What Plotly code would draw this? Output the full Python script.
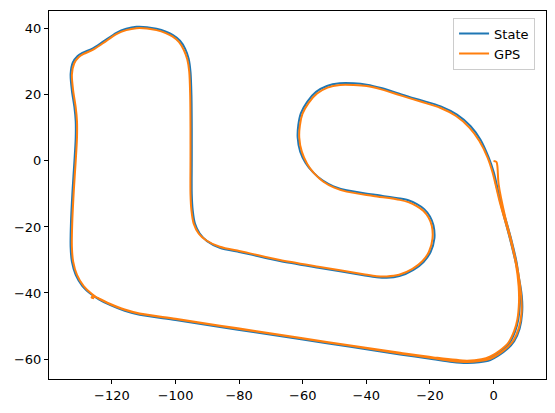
import plotly.graph_objects as go

# trayectoria del estado (x, y)
state_xy = [
    (0.5, -6), (2.8, -15), (5.4, -24.5), (7.6, -33.5), (8.9, -41), (9.0, -46), (8.2, -50.8),
    (6.5, -54.6), (4.3, -57), (1.5, -59), (-1.0, -60.3), (-4.5, -61), (-8.4, -61.2), (-13, -60.9),
    (-18.9, -60.1), (-29.4, -58.6), (-45, -56.3), (-60, -54.1), (-75, -51.9), (-86, -50.3),
    (-100, -48.2), (-111.3, -46.6), (-116, -45.4), (-120.5, -43.7), (-124, -42), (-126.5, -40.4),
    (-129.3, -37.9), (-131.4, -34.5), (-132.6, -30.5), (-133.0, -26), (-132.9, -19), (-132.4, -9),
    (-131.8, 0), (-131.4, 7), (-131.4, 12), (-131.8, 16.2), (-132.6, 21.3), (-133.0, 26.3),
    (-132.3, 29.8), (-130.8, 31.8), (-129.1, 32.8), (-126, 34.1), (-122.8, 36.1), (-118.6, 38.8),
    (-115.5, 40.0), (-112.3, 40.6), (-109, 40.5), (-106, 40.0), (-103, 39.1), (-100.8, 38.1),
    (-98.6, 36.4), (-97.0, 34), (-95.9, 31), (-95.3, 27), (-95.0, 20), (-94.9, 10), (-94.9, 0),
    (-94.9, -10), (-94.6, -15), (-93.9, -19), (-92.4, -22), (-90.1, -24.3), (-86.1, -26.3),
    (-80, -27.6), (-76.6, -28.3), (-67.2, -30.3), (-54.6, -32.4), (-40.9, -34.6), (-36.8, -35.2),
    (-33.6, -35.4), (-29.6, -34.9), (-25.2, -33.0), (-22.0, -30.6), (-19.8, -27.6), (-18.6, -23.5),
    (-18.9, -19.5), (-20.0, -16.8), (-21.8, -14.6), (-24.1, -13.1), (-26.6, -12.0), (-29.4, -11.4),
    (-37.8, -10.2), (-46.2, -8.9), (-50.3, -7.7), (-53.8, -5.9), (-56.8, -3.4), (-59.1, -0.6),
    (-60.8, 2.8), (-61.6, 7.1), (-61.4, 10.8), (-60.6, 14.4), (-58.6, 17.9), (-55.8, 20.9),
    (-52.4, 22.7), (-48.4, 23.5), (-44.0, 23.5), (-39.9, 23.1), (-35.0, 22.0), (-30.4, 20.6),
    (-26.5, 19.4), (-22.6, 18.3), (-16.6, 16.5), (-11.5, 14.0), (-7.2, 10.5), (-4.1, 6.4),
    (-1.6, 1.2), (0.1, -3.5), (2.3, -12.6), (5.4, -23.1), (7.3, -31), (8.2, -38), (8.3, -43),
    (7.8, -48), (6.8, -51.6), (4.9, -55.3), (2.1, -57.7), (-1.0, -59.5), (-3.8, -60.4),
    (-8.4, -60.8), (-18.9, -59.8), (-29.4, -58.5), (-45, -56.2), (-60, -54), (-75, -51.8),
    (-86, -50.2), (-100, -48.1), (-111.3, -46.5), (-116, -45.3), (-120.5, -43.6), (-124, -41.9),
    (-126, -40.9),
]

# trayectoria GPS (x, y)
gps_xy = [
    (0, 0), (0.9, -0.3), (1.2, -1.5), (1.6, -7), (3.7, -17.1), (5.8, -25), (7.6, -33), (8.7, -41),
    (8.8, -46), (8.0, -50.5), (6.3, -54.3), (4.2, -56.6), (1.5, -58.6), (-1.0, -59.9), (-4.5, -60.6),
    (-8.4, -60.9), (-13, -60.6), (-18.9, -59.8), (-29.4, -58.3), (-45, -56), (-60, -53.8),
    (-75, -51.6), (-86, -50), (-100, -47.9), (-111.3, -46.3), (-116, -45.1), (-120.5, -43.4),
    (-124, -41.8), (-126.3, -40.3), (-128.9, -37.9), (-131.0, -34.5), (-132.2, -30.5), (-132.6, -26),
    (-132.5, -19), (-132.0, -9), (-131.4, 0), (-131.0, 7), (-131.0, 12), (-131.4, 16.2),
    (-132.2, 21.3), (-132.6, 26.1), (-131.9, 29.5), (-130.5, 31.4), (-128.9, 32.4), (-125.9, 33.7),
    (-122.7, 35.7), (-118.6, 38.4), (-115.5, 39.6), (-112.3, 40.2), (-109, 40.1), (-106, 39.6),
    (-103.1, 38.7), (-101, 37.7), (-98.9, 36.0), (-97.4, 33.6), (-96.3, 30.7), (-95.7, 27),
    (-95.4, 20), (-95.3, 10), (-95.3, 0), (-95.3, -10), (-95.0, -15), (-94.3, -19), (-92.7, -22),
    (-90.3, -24.1), (-86.1, -26.0), (-80, -27.3), (-76.6, -28.0), (-67.2, -30.0), (-54.6, -32.1),
    (-40.9, -34.3), (-36.8, -34.9), (-33.6, -35.0), (-29.7, -34.5), (-25.5, -32.7), (-22.4, -30.4),
    (-20.3, -27.5), (-19.2, -23.5), (-19.4, -19.7), (-20.4, -17.2), (-22.1, -15.1), (-24.3, -13.6),
    (-26.8, -12.5), (-29.5, -11.8), (-37.8, -10.6), (-46.2, -9.3), (-50.1, -8.1), (-53.5, -6.3),
    (-56.4, -3.8), (-58.6, -0.9), (-60.3, 2.8), (-61.1, 7.1), (-60.9, 10.7), (-60.1, 14.2),
    (-58.2, 17.5), (-55.5, 20.4), (-52.2, 22.2), (-48.3, 23.0), (-44.0, 23.0), (-39.9, 22.7),
    (-35.0, 21.6), (-30.4, 20.2), (-26.5, 19.0), (-22.7, 17.9), (-16.8, 16.1), (-11.8, 13.6),
    (-7.6, 10.1), (-4.5, 6.1), (-1.9, 1.1), (-0.3, -3.5), (2.0, -12.6), (5.1, -23.1), (7.0, -31),
    (7.9, -38), (8.0, -43), (7.5, -48), (6.5, -51.5), (4.7, -55.0), (2.0, -57.4), (-1.0, -59.2),
    (-3.8, -60.1), (-8.4, -60.5), (-18.9, -59.5), (-29.4, -58.1), (-45, -55.9), (-60, -53.7),
    (-75, -51.5), (-86, -49.9), (-100, -47.8), (-111.3, -46.2), (-116, -45.0), (-120.5, -43.3),
    (-124, -41.7), (-126, -40.9), (-126.4, -41.4), (-125.6, -41.6),
]

x_ticks = [-120, -100, -80, -60, -40, -20, 0]
y_ticks = [-60, -40, -20, 0, 20, 40]

fig = go.Figure()
fig.add_trace(go.Scatter(x=[p[0] for p in state_xy], y=[p[1] for p in state_xy],
                         mode="lines", name="State",
                         line=dict(color="#1f77b4", width=2, shape="spline", smoothing=0.8)))
fig.add_trace(go.Scatter(x=[p[0] for p in gps_xy], y=[p[1] for p in gps_xy],
                         mode="lines", name="GPS",
                         line=dict(color="#ff7f0e", width=2, shape="spline", smoothing=0.8)))

ejes = dict(showgrid=False, zeroline=False, showline=True, linecolor="black", linewidth=1,
            mirror=True, ticks="outside", ticklen=4, tickwidth=1, tickcolor="black",
            automargin=False,
            tickfont=dict(family="DejaVu Sans", size=13, color="black"))

# la pagina tiene 8 px de margen en el body, se compensa aqui
fig.update_layout(
    width=547, height=405,
    margin=dict(l=41, r=9, t=3, b=34),
    plot_bgcolor="white", paper_bgcolor="white",
    xaxis=dict(range=[-139.8, 16.5], tickvals=x_ticks, **ejes),
    yaxis=dict(range=[-66.05, 45.4], tickvals=y_ticks, **ejes),
    legend=dict(x=0.978, y=0.982, xanchor="right", yanchor="top",
                bgcolor="rgba(255,255,255,0.8)", bordercolor="#cccccc", borderwidth=1,
                font=dict(family="DejaVu Sans", size=13, color="black"),
                itemwidth=30, tracegroupgap=0),
    showlegend=True,
)

fig.write_html("out.html")
